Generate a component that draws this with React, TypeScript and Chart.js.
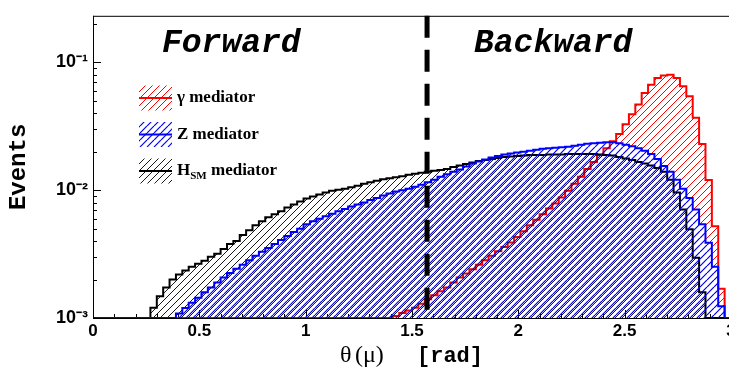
import React, { useEffect, useRef } from 'react';
import { Chart, registerables } from 'chart.js';

Chart.register(...registerables);

// ---- data (histograms: 100 bins of width 0.03 rad from 0 to 3) ----
const BIN_WIDTH = 0.03;
const N_BINS = 100;
const Y_MIN = 0.001;
const Y_MAX = 0.231;
const X_MIN = 0;
const X_MAX = 3;
const BOUNDARY_THETA = 1.5708; // forward / backward separation (pi/2)

const GAMMA_FIRST_BIN = 47;
const GAMMA_VALUES = [
  0.001036, 0.001093, 0.001143, 0.001205, 0.001294, 0.001402, 0.001505, 0.001616, 0.001735, 0.001897,
  0.002073, 0.002226, 0.002411, 0.002612, 0.00283, 0.003065, 0.003321, 0.003597, 0.003897, 0.004298,
  0.00478, 0.00532, 0.005865, 0.00647, 0.0072, 0.00787, 0.00875, 0.00991, 0.01123, 0.01272,
  0.01466, 0.0166, 0.0188, 0.0213, 0.0241, 0.02745, 0.0328, 0.0392, 0.0468, 0.0576,
  0.0668, 0.0752, 0.079, 0.08, 0.0752, 0.0649, 0.0543, 0.0369, 0.023, 0.012,
  0.00522, 0.00169,
];

const Z_FIRST_BIN = 13;
const Z_VALUES = [
  0.001083, 0.001195, 0.001317, 0.00144, 0.001588, 0.001735, 0.001897, 0.002073, 0.002246, 0.002433,
  0.002612, 0.00283, 0.003066, 0.003291, 0.003534, 0.003795, 0.004074, 0.004375, 0.004697, 0.004999,
  0.005416, 0.005712, 0.005972, 0.006244, 0.006527, 0.006824, 0.007134, 0.007459, 0.007729, 0.008008,
  0.008372, 0.008675, 0.00907, 0.009398, 0.009738, 0.01, 0.01027, 0.01064, 0.01103, 0.01153,
  0.01206, 0.01272, 0.01329, 0.0139, 0.01453, 0.01533, 0.01617, 0.01675, 0.01736, 0.01799,
  0.01847, 0.01897, 0.01931, 0.01966, 0.02001, 0.02037, 0.02074, 0.02111, 0.0213, 0.02149,
  0.02168, 0.02187, 0.02226, 0.02266, 0.02307, 0.02328, 0.02348, 0.02369, 0.02369, 0.02328,
  0.02266, 0.02207, 0.0213, 0.02037, 0.01914, 0.01751, 0.01546, 0.0139, 0.01206, 0.01027,
  0.008675, 0.007071, 0.005416, 0.003884, 0.002521, 0.001238,
];

const H_FIRST_BIN = 9;
const H_VALUES = [
  0.001201, 0.001479, 0.001735, 0.002001, 0.002187, 0.002348, 0.002521, 0.002659, 0.002805, 0.003012,
  0.003177, 0.003472, 0.003795, 0.004003, 0.004453, 0.004867, 0.00532, 0.005712, 0.006133, 0.00647,
  0.006824, 0.007327, 0.007729, 0.008151, 0.008599, 0.00891, 0.009233, 0.009566, 0.009913, 0.01009,
  0.01027, 0.01055, 0.01084, 0.01123, 0.01153, 0.01184, 0.01216, 0.01238, 0.0126, 0.01283,
  0.01318, 0.01341, 0.01365, 0.0139, 0.01415, 0.0144, 0.01466, 0.01519, 0.0156, 0.01602,
  0.01645, 0.0169, 0.0172, 0.01751, 0.01783, 0.01815, 0.01831, 0.01847, 0.01864, 0.0188,
  0.0188, 0.0188, 0.01897, 0.01897, 0.01897, 0.01914, 0.01914, 0.01914, 0.01914, 0.01914,
  0.01897, 0.0188, 0.01864, 0.01815, 0.01767, 0.0172, 0.0166, 0.01617, 0.0156, 0.01492,
  0.0139, 0.01206, 0.009566, 0.007071, 0.004955, 0.002959, 0.001588,
];

const X_TICK_VALUES = [0, 0.5, 1, 1.5, 2, 2.5, 3];
const X_TICK_LABELS = ['0', '0.5', '1', '1.5', '2', '2.5', '3'];
const Y_TICK_VALUES = [0.001, 0.01, 0.1];
const Y_TICK_LABELS = ['10\u207B\u00B3', '10\u207B\u00B2', '10\u207B\u00B9'];

const SERIES_LABELS = ['\u03B3 mediator', 'Z mediator', 'H'];
const H_SUBSCRIPT = 'SM';
const H_LABEL_REST = ' mediator';
const REGION_LABELS = ['Forward', 'Backward'];
const X_TITLE_SYMBOL = '\u03B8';
const X_TITLE_ARG = '(\u03BC)';
const X_TITLE_UNIT = '[rad]';
const Y_TITLE = 'Events';

const RED = '#ff0000';
const BLUE = '#0000ff';
const BLACK = '#000000';

function histPoints(first: number, vals: number[]) {
  const pts: { x: number; y: number }[] = [];
  for (let i = 0; i < N_BINS; i++) {
    const k = i - first;
    const v = k >= 0 && k < vals.length ? vals[k] : 0;
    pts.push({ x: i * BIN_WIDTH, y: v > 0 ? v : Y_MIN });
  }
  pts.push({ x: N_BINS * BIN_WIDTH, y: pts[N_BINS - 1].y });
  return pts;
}

function makeHatch(color: string, lw: number, offset: number) {
  const s = 7;
  const c = document.createElement('canvas');
  c.width = s;
  c.height = s;
  const g = c.getContext('2d')!;
  g.strokeStyle = color;
  g.lineWidth = lw;
  g.beginPath();
  for (const k of [-s, 0, s]) {
    g.moveTo(k + offset, s);
    g.lineTo(k + offset + s, 0);
  }
  g.stroke();
  return g.createPattern(c, 'repeat')!;
}

export default function App() {
  const ref = useRef<HTMLCanvasElement>(null);

  useEffect(() => {
    const canvas = ref.current!;
    const redPat = makeHatch(RED, 1, 0);
    const bluePat = makeHatch(BLUE, 1.2, 0);
    const blackPat = makeHatch(BLACK, 0.9, 2);

    const decor = {
      id: 'decor',
      beforeDatasetsDraw(chart: any) {
        const { ctx, chartArea: a, scales } = chart;
        const x = scales.x;
        const y = scales.y;
        ctx.save();
        // frame
        ctx.lineWidth = 1;
        ctx.strokeStyle = BLACK;
        ctx.strokeRect(a.left + 0.5, a.top + 0.5, a.right - a.left, a.bottom - a.top);
        // y ticks
        ctx.beginPath();
        for (const d of Y_TICK_VALUES) {
          for (let k = 1; k <= 9; k++) {
            const v = d * k;
            if (v > Y_MAX) break;
            const py = Math.round(y.getPixelForValue(v)) + 0.5;
            const len = k === 1 ? 8 : 4;
            ctx.moveTo(a.left, py);
            ctx.lineTo(a.left + len, py);
          }
        }
        // x ticks
        for (let j = 0; j <= 30; j++) {
          const v = j * 0.1;
          const px = Math.round(x.getPixelForValue(v)) + 0.5;
          const len = j % 5 === 0 ? 8 : 4;
          ctx.moveTo(px, a.bottom);
          ctx.lineTo(px, a.bottom - len);
        }
        ctx.stroke();
        ctx.restore();
      },
      afterDatasetsDraw(chart: any) {
        const { ctx, chartArea: a, scales } = chart;
        const x = scales.x;
        ctx.save();
        // separator
        const xs = x.getPixelForValue(BOUNDARY_THETA);
        ctx.beginPath();
        ctx.setLineDash([22, 12]);
        ctx.lineWidth = 5;
        ctx.strokeStyle = BLACK;
        ctx.moveTo(xs, a.top);
        ctx.lineTo(xs, a.bottom);
        ctx.stroke();
        ctx.setLineDash([]);
        // left axis line on top
        ctx.lineWidth = 1;
        ctx.beginPath();
        ctx.moveTo(a.left + 0.5, a.top);
        ctx.lineTo(a.left + 0.5, a.bottom);
        ctx.stroke();

        // region labels
        ctx.fillStyle = BLACK;
        ctx.textBaseline = 'alphabetic';
        ctx.textAlign = 'left';
        ctx.font = 'italic bold 33px "Liberation Mono"';
        ctx.fillText(REGION_LABELS[0], 162, 52);
        ctx.fillText(REGION_LABELS[1], 474, 52);

        // x title
        ctx.font = '24px "Liberation Serif"';
        ctx.fillText(X_TITLE_SYMBOL, 340, 362);
        ctx.fillText(X_TITLE_ARG, 355, 362);
        ctx.font = 'bold 22px "Liberation Mono"';
        ctx.fillText(X_TITLE_UNIT, 417, 362);

        // legend
        const items = [
          { c: RED, p: redPat, cy: 98 },
          { c: BLUE, p: bluePat, cy: 134.5 },
          { c: BLACK, p: blackPat, cy: 171 },
        ];
        items.forEach((it, i) => {
          ctx.fillStyle = it.p;
          ctx.fillRect(139, it.cy - 12.5, 33, 25);
          ctx.beginPath();
          ctx.strokeStyle = it.c;
          ctx.lineWidth = 2;
          ctx.moveTo(139, it.cy);
          ctx.lineTo(172, it.cy);
          ctx.stroke();
          ctx.fillStyle = BLACK;
          ctx.textBaseline = 'middle';
          ctx.font = 'bold 17px "Liberation Serif"';
          ctx.fillText(SERIES_LABELS[i], 177, it.cy);
          if (i === 2) {
            const w = ctx.measureText(SERIES_LABELS[i]).width;
            ctx.font = 'bold 11px "Liberation Serif"';
            ctx.fillText(H_SUBSCRIPT, 177 + w, it.cy + 5);
            const w2 = ctx.measureText(H_SUBSCRIPT).width;
            ctx.font = 'bold 17px "Liberation Serif"';
            ctx.fillText(H_LABEL_REST, 177 + w + w2, it.cy);
          }
        });
        ctx.restore();
      },
    };

    const mk = (data: any, color: string, pat: any, order: number) => ({
      data,
      borderColor: color,
      borderWidth: 2,
      backgroundColor: pat,
      fill: 'start',
      stepped: true,
      pointRadius: 0,
      order,
    });

    const chart = new Chart(canvas, {
      type: 'line',
      data: {
        datasets: [
          mk(histPoints(GAMMA_FIRST_BIN, GAMMA_VALUES), RED, redPat, 3),
          mk(histPoints(H_FIRST_BIN, H_VALUES), BLACK, blackPat, 2),
          mk(histPoints(Z_FIRST_BIN, Z_VALUES), BLUE, bluePat, 1),
        ] as any,
      },
      options: {
        animation: false,
        responsive: false,
        devicePixelRatio: 1,
        events: [],
        layout: { padding: { left: 0, top: 12, right: 29, bottom: 0 } },
        plugins: { legend: { display: false }, tooltip: { enabled: false } },
        scales: {
          x: {
            type: 'linear',
            min: X_MIN,
            max: X_MAX,
            afterBuildTicks: (s: any) => {
              s.ticks = X_TICK_VALUES.map((v) => ({ value: v }));
            },
            afterFit: (s: any) => {
              s.height = 49;
            },
            grid: { display: false, drawTicks: false },
            border: { display: false },
            ticks: {
              color: BLACK,
              padding: 3,
              maxRotation: 0,
              autoSkip: false,
              font: { family: '"Liberation Sans"', weight: 'bold', size: 17 },
              callback: (_v: any, i: number) => X_TICK_LABELS[i],
            },
          },
          y: {
            type: 'logarithmic',
            min: Y_MIN,
            max: Y_MAX,
            afterBuildTicks: (s: any) => {
              s.ticks = Y_TICK_VALUES.map((v) => ({ value: v }));
            },
            afterFit: (s: any) => {
              s.width = 93;
            },
            grid: { display: false, drawTicks: false },
            border: { display: false },
            ticks: {
              color: BLACK,
              padding: 5,
              autoSkip: false,
              font: { family: '"Liberation Sans"', weight: 'bold', size: 18 },
              callback: (_v: any, i: number) => Y_TICK_LABELS[i],
            },
            title: {
              display: true,
              text: Y_TITLE,
              color: BLACK,
              font: { family: '"Liberation Mono"', weight: 'bold', size: 24 },
              padding: { top: 5, bottom: 0 },
            },
          },
        },
      } as any,
      plugins: [decor],
    });
    return () => chart.destroy();
  }, []);

  return (
    <div
      style={{
        position: 'fixed',
        left: 0,
        top: 0,
        width: 729,
        height: 367,
        overflow: 'hidden',
        background: '#fff',
      }}
    >
      <canvas ref={ref} width={760} height={367} style={{ display: 'block', width: 760, height: 367 }} />
    </div>
  );
}
